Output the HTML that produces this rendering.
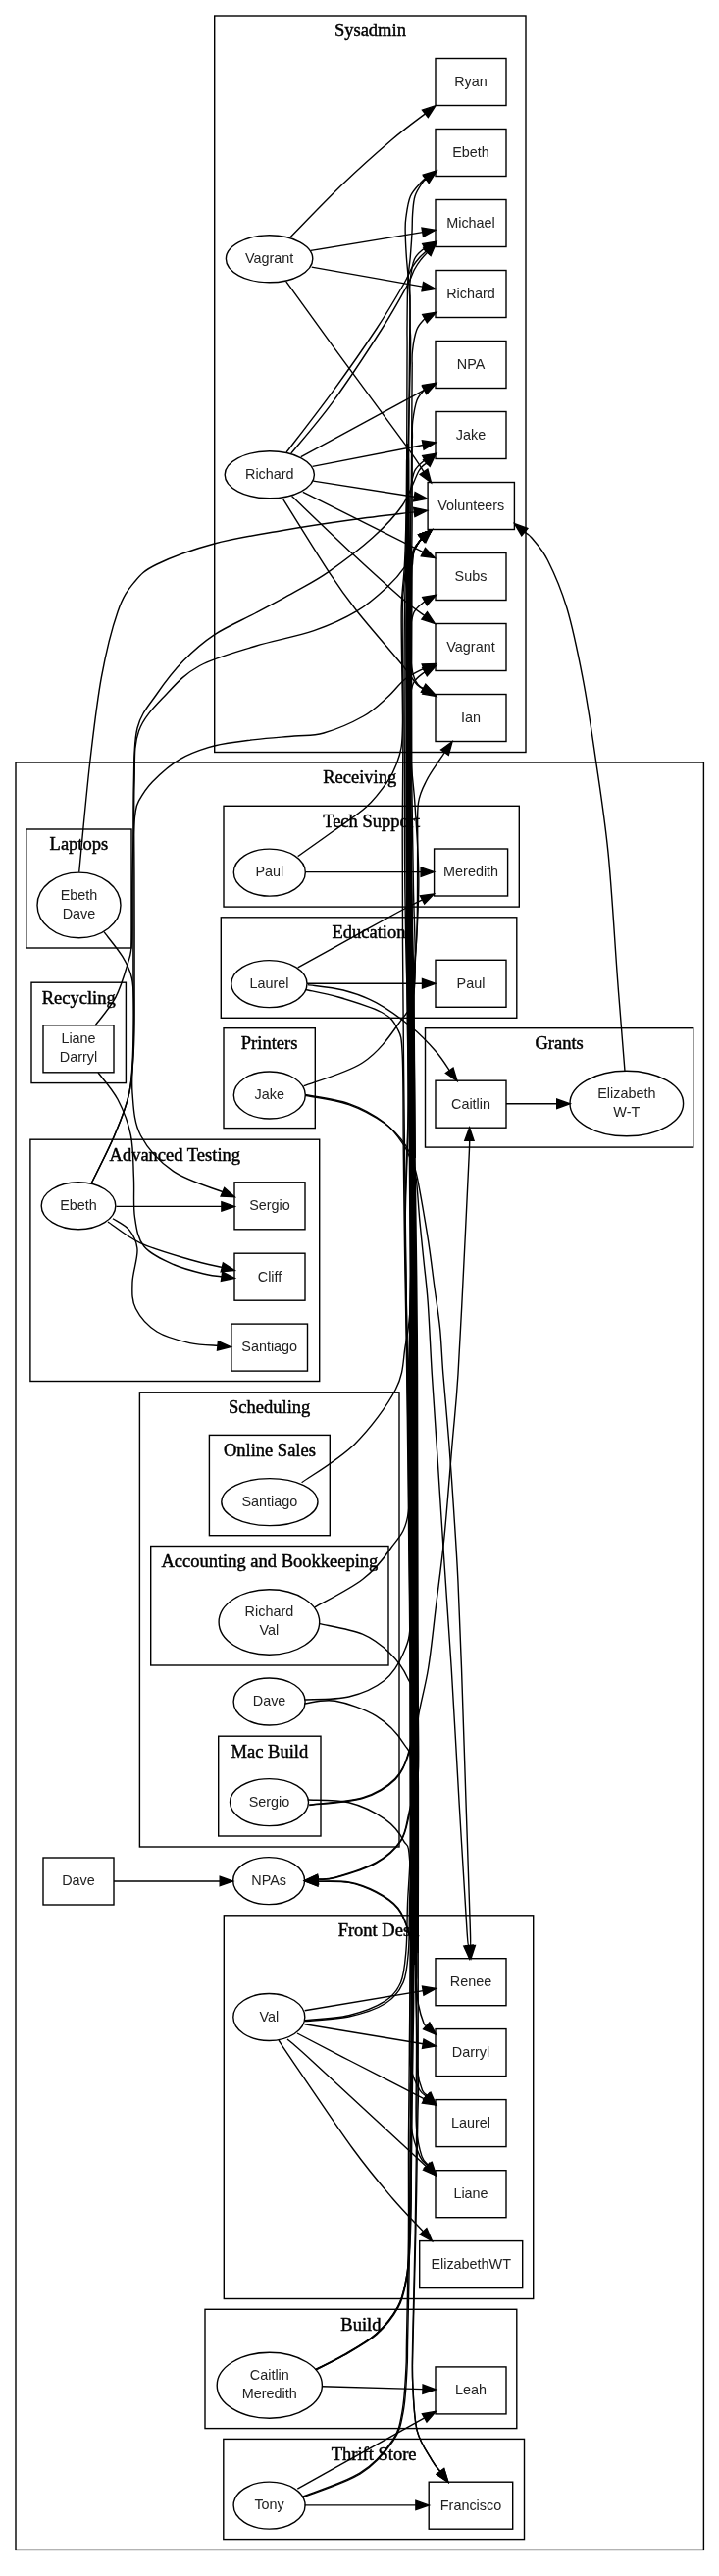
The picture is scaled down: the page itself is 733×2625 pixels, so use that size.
<!DOCTYPE html>
<html><head><meta charset="utf-8"><title>Coverage graph</title>
<style>
html,body{margin:0;padding:0;background:#fff}
svg{display:block;will-change:transform}
.cl text{font-family:"Liberation Serif",serif;font-size:18.5px;text-anchor:middle;fill:#000;stroke:#000;stroke-width:.45px}
.nl text{font-family:"Liberation Sans",sans-serif;font-size:14.4px;text-anchor:middle;fill:#222}
.e polygon.a{fill:#000;stroke:#000}
</style></head><body>
<svg width="733" height="2625" viewBox="0 0 733 2625">
<rect width="733" height="2625" fill="#fff"/>
<g fill="none" stroke="#000" stroke-width="1.4">
<rect x="218.7" y="16" width="317.3" height="750.5"/>
<rect x="16" y="777" width="701.4" height="1821.4"/>
<rect x="228" y="821.3" width="301.3" height="102.8"/>
<rect x="225.3" y="934.8" width="301.5" height="102.5"/>
<rect x="26.8" y="845" width="107.2" height="121"/>
<rect x="32" y="1001.2" width="96.4" height="102.4"/>
<rect x="228" y="1047.7" width="93.3" height="101.9"/>
<rect x="433.5" y="1047.7" width="273.2" height="121.4"/>
<rect x="30.9" y="1161.2" width="294.8" height="246.3"/>
<rect x="142.4" y="1418.8" width="264.6" height="463.2"/>
<rect x="213.4" y="1462.4" width="122.9" height="102.3"/>
<rect x="153.7" y="1575.5" width="242.3" height="121.5"/>
<rect x="222.7" y="1769.2" width="104.3" height="101.8"/>
<rect x="228.3" y="1951.8" width="315.4" height="390.7"/>
<rect x="209" y="2353.3" width="317.8" height="121.3"/>
<rect x="227.8" y="2485.4" width="306.7" height="102.2"/>
</g>
<g class="cl">
<text x="377.4" y="37.3">Sysadmin</text>
<text x="366.7" y="798.3">Receiving</text>
<text x="378.6" y="842.6">Tech Support</text>
<text x="376" y="956.1">Education</text>
<text x="80.4" y="866.3">Laptops</text>
<text x="80.2" y="1022.5">Recycling</text>
<text x="274.6" y="1069">Printers</text>
<text x="570.1" y="1069">Grants</text>
<text x="178.3" y="1182.5">Advanced Testing</text>
<text x="274.7" y="1440.1">Scheduling</text>
<text x="274.9" y="1483.7">Online Sales</text>
<text x="274.9" y="1596.8">Accounting and Bookkeeping</text>
<text x="274.9" y="1790.5">Mac Build</text>
<text x="386" y="1973.1">Front Desk</text>
<text x="367.9" y="2374.6">Build</text>
<text x="381.1" y="2506.7">Thrift Store</text>
</g>
<g fill="none" stroke="#000" stroke-width="1.4">
<rect x="444" y="59.5" width="72" height="48"/>
<rect x="444" y="131.5" width="72" height="48"/>
<rect x="444" y="203.5" width="72" height="48"/>
<rect x="444" y="275.5" width="72" height="48"/>
<rect x="444" y="347.5" width="72" height="48"/>
<rect x="444" y="419.5" width="72" height="48"/>
<rect x="436.1" y="491.5" width="88.3" height="48"/>
<rect x="444" y="563.5" width="72" height="48"/>
<rect x="444" y="635.5" width="72" height="48"/>
<rect x="444" y="707.5" width="72" height="48"/>
<ellipse cx="274.6" cy="263.8" rx="44.2" ry="24"/>
<ellipse cx="274.8" cy="483.8" rx="45.6" ry="24"/>
<ellipse cx="80.5" cy="922.4" rx="42.5" ry="33.3"/>
<rect x="44" y="1044.8" width="72" height="48"/>
<ellipse cx="274.8" cy="889.1" rx="36.5" ry="24"/>
<rect x="442.6" y="865" width="75" height="48"/>
<ellipse cx="274.4" cy="1002.6" rx="38.6" ry="24"/>
<rect x="444" y="978.3" width="72" height="48"/>
<ellipse cx="274.8" cy="1116" rx="36.5" ry="24"/>
<rect x="444" y="1101.2" width="72" height="48"/>
<ellipse cx="638.8" cy="1124.5" rx="57.8" ry="33.3"/>
<ellipse cx="80" cy="1228.7" rx="37.8" ry="24"/>
<rect x="239" y="1204.8" width="72" height="48"/>
<rect x="239" y="1277.2" width="72" height="48"/>
<rect x="235.9" y="1349.1" width="77.6" height="48"/>
<ellipse cx="274.9" cy="1530.6" rx="49.1" ry="24"/>
<ellipse cx="274.4" cy="1653" rx="51.3" ry="33.2"/>
<ellipse cx="274.6" cy="1734" rx="36.5" ry="24"/>
<ellipse cx="274.5" cy="1836.6" rx="40" ry="24"/>
<rect x="44" y="1893" width="72" height="48"/>
<ellipse cx="274.1" cy="1916.6" rx="36.5" ry="24"/>
<ellipse cx="274.3" cy="2055.5" rx="36.5" ry="24"/>
<rect x="444" y="1995.7" width="72" height="48"/>
<rect x="444" y="2067.6" width="72" height="48"/>
<rect x="444" y="2139.6" width="72" height="48"/>
<rect x="444" y="2211.7" width="72" height="48"/>
<rect x="427.7" y="2283.6" width="105" height="48"/>
<ellipse cx="274.8" cy="2430.7" rx="53.6" ry="33.5"/>
<rect x="444" y="2411.9" width="72" height="48"/>
<ellipse cx="274.6" cy="2553.1" rx="36.5" ry="24"/>
<rect x="437.2" y="2529.2" width="85.5" height="48"/>
</g>
<g class="nl">
<text x="480" y="87.8">Ryan</text>
<text x="480" y="159.8">Ebeth</text>
<text x="480" y="231.8">Michael</text>
<text x="480" y="303.8">Richard</text>
<text x="480" y="375.8">NPA</text>
<text x="480" y="447.8">Jake</text>
<text x="480.2" y="519.8">Volunteers</text>
<text x="480" y="591.8">Subs</text>
<text x="480" y="663.8">Vagrant</text>
<text x="480" y="735.8">Ian</text>
<text x="274.6" y="268.1">Vagrant</text>
<text x="274.8" y="488.1">Richard</text>
<text x="80.5" y="916.7">Ebeth</text>
<text x="80.5" y="935.7">Dave</text>
<text x="80" y="1063.1">Liane</text>
<text x="80" y="1082.1">Darryl</text>
<text x="274.8" y="893.4">Paul</text>
<text x="480.1" y="893.3">Meredith</text>
<text x="274.4" y="1006.9">Laurel</text>
<text x="480" y="1006.6">Paul</text>
<text x="274.8" y="1120.3">Jake</text>
<text x="480" y="1129.5">Caitlin</text>
<text x="638.8" y="1118.8">Elizabeth</text>
<text x="638.8" y="1137.8">W-T</text>
<text x="80" y="1233">Ebeth</text>
<text x="275" y="1233.1">Sergio</text>
<text x="275" y="1305.5">Cliff</text>
<text x="274.7" y="1377.4">Santiago</text>
<text x="274.9" y="1534.9">Santiago</text>
<text x="274.4" y="1647.3">Richard</text>
<text x="274.4" y="1666.3">Val</text>
<text x="274.6" y="1738.3">Dave</text>
<text x="274.5" y="1840.9">Sergio</text>
<text x="80" y="1921.3">Dave</text>
<text x="274.1" y="1920.9">NPAs</text>
<text x="274.3" y="2059.8">Val</text>
<text x="480" y="2024">Renee</text>
<text x="480" y="2095.9">Darryl</text>
<text x="480" y="2167.9">Laurel</text>
<text x="480" y="2240">Liane</text>
<text x="480.2" y="2311.9">ElizabethWT</text>
<text x="274.8" y="2425">Caitlin</text>
<text x="274.8" y="2444">Meredith</text>
<text x="480" y="2440.2">Leah</text>
<text x="274.6" y="2557.4">Tony</text>
<text x="480" y="2557.5">Francisco</text>
</g>
<g class="e" fill="none" stroke="#000" stroke-width="1.4">
<path d="M296,241.7C305,232.6 332.7,203.6 350,187C367.3,170.4 386.1,153.9 400,142C413.9,130.1 427.8,120.2 433.4,115.9"/><polygon class="a" points="436.3,119.6 443.9,107.7 430.5,112.2"/>
<path d="M316.8,255.4L430.8,236.6"/><polygon class="a" points="431.5,241.2 443.9,234.4 430,232"/>
<path d="M317.7,272.1L430.8,292.1"/><polygon class="a" points="430,296.7 443.9,294.4 431.6,287.5"/>
<path d="M291.8,286.8C299.8,297.9 319.7,325.8 340,353.6C360.3,381.4 398.3,432.5 413.6,453.7C428.9,474.9 429,476.3 432,480.8"/><polygon class="a" points="428.2,483.4 439.5,491.8 435.9,478.2"/>
<path d="M292.1,460.9C300.1,450.4 324.7,418.8 340,397.8C355.3,376.8 371.9,353 383.8,335C395.7,317 405.3,300.4 411.3,290C417.3,279.6 417.3,277.2 420,272.6C422.7,268 425.1,265.3 427.6,262.5C430.1,259.7 433.7,256.8 434.9,255.6"/><polygon class="a" points="438.1,259 444.6,246.5 431.7,252.2"/>
<path d="M296.8,462.1C304,453.2 324.6,429.8 340,408.6C355.4,387.4 377,354.4 389.4,335C401.8,315.6 409,302.1 414.5,292C420,281.9 420,279.2 422.5,274.5C425,269.8 427.3,266.9 429.5,264C431.7,261.1 434.6,258.4 435.6,257.3"/><polygon class="a" points="439.1,260.5 444.6,247.5 432.2,254.2"/>
<path d="M306.8,465.7L432.6,397.3"/><polygon class="a" points="434.8,401.5 444.3,391 430.4,393.2"/>
<path d="M318.5,475.4L431.2,453.5"/><polygon class="a" points="432.1,458.1 444.3,451 430.4,448.9"/>
<path d="M319.3,490.1L422.4,506.2"/><polygon class="a" points="421.6,510.9 435.5,508.3 423.1,501.6"/>
<path d="M308.8,501.3L431.4,562.6"/><polygon class="a" points="429.3,566.8 443.3,568.6 433.5,558.5"/>
<path d="M297.5,505.5C307.9,515.4 341.3,547.6 360.1,565.1C378.9,582.6 398.1,599.8 410.2,610.2C422.3,620.6 429,624.5 432.7,627.3"/><polygon class="a" points="429.9,631.1 443.3,635.4 435.5,623.6"/>
<path d="M288.8,508.8C296.5,521.1 322.6,563.6 335.1,582.6C347.6,601.6 351.4,606.8 363.9,622.7C376.4,638.6 400,665.3 410.2,677.8C420.4,690.3 421.6,693.9 425.2,697.8C428.8,701.7 430.5,700.6 431.6,701.2"/><polygon class="a" points="429.4,705.3 443.3,707.5 433.8,697.1"/>
<path d="M80.7,888.8C82.5,870.2 87.9,810.1 91.7,777C95.5,743.9 98.7,715.6 103.4,690C108.1,664.4 114.4,639.5 120,623.4C125.6,607.3 130.1,601.5 136.8,593.4C143.5,585.3 146.4,581.6 160,575C173.6,568.4 197.3,559.7 218.5,554C239.7,548.3 263.4,544.8 287,540.7C310.6,536.6 337.5,532.6 360,529.5C382.5,526.4 411.9,523.2 422.3,521.9"/><polygon class="a" points="422.9,526.5 435.5,520.3 421.7,517.3"/>
<path d="M93.4,1205.4C97.3,1197.3 110.3,1172.3 116.7,1157C123.1,1141.7 128.6,1129.2 131.8,1113.6C135,1098 135.1,1085.9 135.8,1063.6C136.5,1041.3 135.9,1007.3 135.9,980C135.9,952.7 135.8,930 135.9,900C136,870 135.6,826.3 136.3,800C137,773.7 136.1,757.5 140,742C143.9,726.5 152.2,718.4 160,707C167.8,695.6 177.1,683.5 186.8,673.5C196.6,663.5 206.3,654.9 218.5,646.8C230.7,638.7 246.4,632.2 260,625C273.6,617.8 287.5,610.5 300,603.4C312.5,596.3 321.7,591.9 335.1,582.6C348.5,573.3 367.7,558.9 380.2,547.6C392.7,536.3 402.4,526.3 410.2,515C418,503.7 422.8,487.2 426.9,480C431,472.8 433.6,473.3 434.9,471.9"/><polygon class="a" points="438.2,475.2 444.3,462.5 431.6,468.6"/>
<path d="M93.4,1205.4C97.3,1197.3 110.3,1172.3 116.7,1157C123.1,1141.7 128.5,1129.2 131.8,1113.6C135.1,1098 135.7,1085.9 136.6,1063.6C137.5,1041.3 137,1007.3 137.1,980C137.2,952.7 137,930 137,900C137,870 136.2,825.8 137,800C137.8,774.2 136,760.5 141.5,745C147,729.5 159.7,718.1 170,707C180.3,695.9 188.5,686.6 203.5,678.5C218.5,670.4 240.6,664.5 260,658.5C279.4,652.5 302.7,648.7 320,642.7C337.3,636.7 351.4,630.2 363.9,622.7C376.4,615.2 387.1,605.2 395.2,597.7C403.3,590.2 407.9,584.6 412.7,577.6C417.5,570.6 421,560.7 424,556C427,551.3 429.5,550.5 430.6,549.4"/><polygon class="a" points="433.9,552.7 440,540 427.3,546.1"/>
<path d="M97,1045C100.5,1040.2 112.2,1027 117.8,1016.4C123.3,1005.9 127.5,991.1 130.3,981.7C133.1,972.3 133.7,973.6 134.4,960C135.2,946.4 134.5,918.7 134.8,900C135.1,881.3 135.9,859.9 136.4,848C136.9,836.1 137.2,834 138,828.7C138.8,823.4 138.6,821.5 141.5,816.2C144.4,810.9 148.4,803.8 155.4,796.7C162.4,789.6 173,779.7 183.5,773.6C194,767.5 205.8,763.3 218.5,760C231.2,756.7 246.4,755.3 260,753.6C273.6,751.9 288.3,751.1 300,750C311.7,748.9 318.3,750.3 330,747C341.7,743.7 359.3,736.1 370.2,730C381.1,723.9 388.1,716.6 395.2,710.3C402.3,704 406.9,696.8 413,692C419.1,687.2 428.7,683.1 431.9,681.3"/><polygon class="a" points="433.5,685.7 444.3,676.6 430.2,676.9"/>
<path d="M106,949.7C109.1,953.9 120,966.8 124.8,974.7C129.6,982.6 132.5,987.8 134.5,997C136.5,1006.2 136.3,1017.8 136.6,1030C136.8,1042.2 136.3,1056.1 136,1070C135.7,1083.9 133.8,1099.1 135,1113.6C136.2,1128.1 136.4,1143.7 143.4,1157C150.4,1170.3 162.9,1184.1 176.8,1193.7C190.7,1203.3 218.6,1211.2 226.9,1214.7"/><polygon class="a" points="225.1,1219 239.2,1219.8 228.7,1210.4"/>
<path d="M100,1093C103.3,1097.5 114.4,1109.6 120,1120.3C125.6,1131 130.7,1143.7 133.4,1157C136.1,1170.3 135.7,1186.2 136.4,1200C137.1,1213.8 135.7,1228.3 137.4,1240C139.1,1251.7 140.2,1261.9 146.8,1270C153.4,1278.1 166.3,1283.8 176.8,1288.5C187.3,1293.2 201.8,1296.5 210,1298.5C218.2,1300.5 223.4,1300.3 226,1300.7"/><polygon class="a" points="225.4,1305.3 239.2,1302.5 226.7,1296.1"/>
<path d="M118.4,1229.4L225.9,1229.4"/><polygon class="a" points="225.9,1234.1 239.2,1229.4 225.9,1224.7"/>
<path d="M110,1245C115.6,1248.6 129.5,1260.4 143.4,1266.8C157.3,1273.2 179.7,1279.4 193.5,1283.5C207.3,1287.6 220.8,1290.1 226.3,1291.4"/><polygon class="a" points="225.2,1295.9 239.2,1294.5 227.4,1286.8"/>
<path d="M115,1241.7C117.8,1243.7 127.6,1248.1 131.8,1253.4C136,1258.7 139.5,1264.5 140,1273.4C140.5,1282.3 135.3,1296.8 135,1306.8C134.7,1316.8 134.2,1325.1 138.4,1333.5C142.6,1341.9 150.8,1351.2 160,1357C169.2,1362.8 183.2,1366.2 193.5,1368.6C203.8,1371 217.2,1370.9 222,1371.3"/><polygon class="a" points="221.5,1376 235.2,1372.6 222.4,1366.7"/>
<path d="M116,1917L224.2,1917"/><polygon class="a" points="224.2,1921.7 237.5,1917 224.2,1912.3"/>
<path d="M311.3,888.6L429.1,888.6"/><polygon class="a" points="429.1,893.3 442.4,888.6 429.1,883.9"/>
<path d="M303.7,985.9C309.8,982.5 322.8,975.3 340,965.8C357.2,956.3 391.7,937.1 406.8,929C421.9,920.9 426.6,918.9 430.5,916.9"/><polygon class="a" points="432.7,921.1 442.4,910.9 428.4,912.8"/>
<path d="M313,1002.3L430.5,1002.3"/><polygon class="a" points="430.5,1007 443.8,1002.3 430.5,997.6"/>
<path d="M313.9,1003.6C319.9,1004.5 338.4,1006 350,1009C361.6,1012 371.8,1015.4 383.4,1021.7C395,1028 409.4,1038.5 419.6,1046.8C429.8,1055.1 438.2,1064.5 444.6,1071.8C451,1079.1 456,1087.6 458.2,1090.8"/><polygon class="a" points="454.4,1093.5 466,1101.6 462,1088.1"/>
<path d="M516,1124.8L567.7,1124.8"/><polygon class="a" points="567.7,1129.5 581,1124.8 567.7,1120.1"/>
<path d="M637,1091.5C635.8,1076 632.4,1035.6 629.6,998.5C626.8,961.4 623.8,906.7 620,868.9C616.2,831.1 611.3,801.3 607,771.6C602.7,741.9 598.9,716 594,690.6C589.1,665.2 583.8,639.3 577.8,619.3C571.8,599.3 564.3,582.6 558.3,570.7C552.3,558.8 545.9,552.8 542,548C538.1,543.2 536,543.1 534.8,542.1"/><polygon class="a" points="537.8,538.5 524.5,533.7 531.8,545.7"/>
<path d="M310.6,2048.7L431.3,2028.6"/><polygon class="a" points="432,2033.2 444.4,2026.4 430.5,2024"/>
<path d="M310.6,2062.8L431.3,2082.8"/><polygon class="a" points="430.5,2087.4 444.4,2085 432,2078.2"/>
<path d="M303,2072C312,2076.7 335.4,2088.8 357,2100C378.6,2111.2 420,2132.4 432.6,2138.9"/><polygon class="a" points="430.4,2143.1 444.4,2145 434.7,2134.8"/>
<path d="M293,2078C297.2,2081.7 294.4,2078.4 318,2100C341.6,2121.6 415.2,2189.8 434.6,2207.8"/><polygon class="a" points="431.5,2211.2 444.4,2216.8 437.8,2204.3"/>
<path d="M284,2079C286.7,2083 287.3,2084.3 300,2102.8C312.7,2121.3 343.3,2167.1 360,2190C376.7,2212.9 388.1,2226 400,2240C411.9,2254 426.2,2268.2 431.4,2273.9"/><polygon class="a" points="428,2277 440.5,2283.6 434.9,2270.7"/>
<path d="M328.4,2431.7L431,2434.6"/><polygon class="a" points="430.9,2439.3 444.3,2435 431.1,2430"/>
<path d="M310.6,2552.9L423.9,2552.9"/><polygon class="a" points="423.9,2557.6 437.2,2552.9 423.9,2548.2"/>
<path d="M303.3,2536.2L432.7,2463.9"/><polygon class="a" points="435,2468 444.3,2457.4 430.4,2459.8"/>
<path d="M303.7,872.6C309.8,868.3 328.4,855.2 340,846.8C351.6,838.4 364.1,830.8 373.4,822.3C382.7,813.8 390.4,803.1 395.6,795.6C400.8,788.1 402.5,782.9 404.8,777C407.1,771.1 408.4,766.2 409.3,760C410.2,753.8 410.2,747.5 410.4,740C410.6,732.5 410.5,735 410.3,715C410.2,695 408.8,645.8 409.2,620C409.7,594.2 411.6,601.7 413.1,560C414.6,518.3 417.4,407.5 418.3,370C419.1,332.5 418.3,346.7 418.2,335C418.1,323.3 418.2,312.1 417.6,300C417,287.9 415.1,272.9 414.4,262.5C413.7,252.1 413.3,244.2 413.2,237.5C413.1,230.8 412.9,228.2 413.8,222C414.7,215.8 415.7,206.2 418.4,200C421.1,193.8 427.4,188 430,185C432.6,182 433.4,182.4 434.1,181.9"/><polygon class="a" points="436.9,185.7 444.8,174 431.3,178.2"/>
<path d="M419.3,1470C418.7,1455.8 416.4,1413.3 415.5,1385C414.7,1356.7 414.4,1333.1 414,1300C413.5,1266.9 413,1224.4 412.6,1186.7C412.2,1148.9 411.8,1111.1 411.4,1073.3C411.1,1035.6 410.7,997.8 410.5,960C410.3,922.2 410.2,884.4 410.2,846.7C410.3,808.9 411,771.1 411,733.3C411,695.6 409.8,648.9 410.3,620C410.7,591.1 413.1,601.7 413.9,560C414.7,518.3 414.9,407.5 415,370C415.2,332.5 414.9,348.7 415,335C415.1,321.3 415.2,299.7 415.7,287.6C416.2,275.5 417.5,270.9 418.2,262.5C418.9,254.1 419.6,244.4 420,237C420.4,229.6 420.1,224.2 420.6,218C421.1,211.8 421.3,205.4 423,200C424.7,194.6 429.1,188.4 431,185.5C432.9,182.6 433.8,183.2 434.4,182.8"/><polygon class="a" points="437.3,186.4 444.8,174.5 431.5,179.1"/>
<path d="M308.3,2544.2C318.1,2540.2 351.5,2529.8 366.8,2520.2C382.1,2510.6 392.9,2497.4 400.1,2486.8C407.3,2476.2 407.8,2469 410.1,2456.8C412.4,2444.6 413.2,2425.4 413.9,2413.4C414.6,2401.4 414.1,2407 414.5,2385C414.9,2363 416,2315.8 416.4,2281.2C416.7,2246.6 416.3,2212 416.5,2177.4C416.7,2142.7 417.2,2108.1 417.5,2073.5C417.8,2038.9 418.3,2004.3 418.5,1969.7C418.6,1935.1 418.4,1900.5 418.4,1865.9C418.4,1831.3 418.4,1796.7 418.3,1762.1C418.2,1727.5 418.2,1692.8 418,1658.2C417.8,1623.6 417.3,1589 417,1554.4C416.7,1519.8 416.5,1485.2 416.1,1450.6C415.7,1416 415.1,1381.4 414.6,1346.8C414.1,1312.2 413,1277.5 413.2,1242.9C413.5,1208.3 415.8,1173.7 416.1,1139.1C416.5,1104.5 415.6,1069.9 415.3,1035.3C415,1000.7 414.7,966.1 414.5,931.5C414.3,896.9 414.2,862.3 414.1,827.6C414.1,793 414.2,758.4 414.2,723.8C414.1,689.2 413.7,647.3 414.1,620C414.4,592.7 415.7,590.5 416.1,560C416.6,529.5 416.5,477.8 416.8,436.8C417.1,395.7 417.8,336 418,313.5C418.2,291 417.8,306.2 417.9,301.5C417.9,296.8 417.4,291.8 418.2,285.5C418.9,279.2 420,269.5 422.5,264C424.9,258.5 431.2,254.6 433,252.7"/><polygon class="a" points="435.3,256.8 444.6,246.2 430.7,248.6"/>
<path d="M308.3,2545C318.1,2541 351.8,2530.6 367.2,2521C382.6,2511.4 393.5,2498.1 400.8,2487.4C408.1,2476.7 408.8,2469.3 411.2,2457C413.6,2444.7 414.3,2425.4 415,2413.4C415.7,2401.4 415.2,2407 415.6,2385C416.1,2363 417.2,2315.8 417.6,2281.2C418,2246.6 417.9,2212 418.1,2177.4C418.4,2142.7 418.7,2108.1 419,2073.5C419.2,2038.9 419.6,2004.3 419.8,1969.7C419.9,1935.1 419.7,1900.5 419.7,1865.9C419.7,1831.3 419.7,1796.7 419.7,1762.1C419.6,1727.5 419.6,1692.8 419.4,1658.2C419.2,1623.6 418.9,1589 418.6,1554.4C418.3,1519.8 417.8,1485.2 417.8,1450.6C417.8,1416 418.5,1381.4 418.7,1346.8C418.8,1312.2 418.7,1277.5 418.5,1242.9C418.3,1208.3 417.7,1173.7 417.4,1139.1C417.1,1104.5 416.8,1069.9 416.5,1035.3C416.3,1000.7 415.9,966.1 415.7,931.5C415.5,896.9 415.3,862.3 415.2,827.6C415.1,793 415.1,758.4 415.1,723.8C415.1,689.2 414.4,647.3 415.1,620C415.9,592.7 418.8,587.1 419.7,560C420.5,532.9 420.1,476.6 420.2,457.5C420.3,438.4 420.3,450.2 420.4,445.5C420.5,440.8 419.9,435.8 420.7,429.5C421.5,423.2 422.9,413.5 425,408C427,402.5 431.7,398.6 433,396.7"/><polygon class="a" points="435.3,400.8 444.6,390.2 430.7,392.6"/>
<path d="M320.9,1637.9C329,1633.2 356.8,1619.3 369.5,1609.5C382.2,1599.7 389.6,1590.6 397.4,1579C405.2,1567.4 413.4,1563.5 416.4,1540C419.4,1516.5 416,1471.9 415.6,1437.8C415.2,1403.7 414.6,1369.6 414.2,1335.6C413.7,1301.5 412.7,1267.4 413,1233.3C413.4,1199.3 415.7,1165.2 416.1,1131.1C416.5,1097 415.6,1063 415.4,1028.9C415.2,994.8 414.9,960.7 414.7,926.7C414.5,892.6 414.5,858.5 414.5,824.4C414.4,790.4 414.5,756.3 414.5,722.2C414.6,688.1 413.9,647 414.6,620C415.3,593 417.6,599.1 418.5,560C419.4,520.9 419.8,416.6 420.1,385.5C420.3,354.4 420.1,378.2 420.2,373.5C420.2,368.8 419.7,363.8 420.5,357.5C421.2,351.2 422.7,341.5 424.8,336C426.9,330.5 431.6,326.6 433,324.7"/><polygon class="a" points="435.3,328.8 444.6,318.2 430.7,320.6"/>
<path d="M315.3,1839C324.3,1837.8 354.9,1836.4 369.5,1832C384.1,1827.6 395,1820.5 402.9,1812.6C410.8,1804.7 414,1794.4 416.8,1784.8C419.6,1775.2 419.2,1777.2 419.6,1755C420.1,1732.8 419.6,1686.2 419.4,1651.8C419.2,1617.4 418.9,1583 418.7,1548.6C418.4,1514.2 417.9,1479.8 418,1445.5C418,1411.1 418.9,1376.7 419,1342.3C419.1,1307.9 418.9,1273.5 418.7,1239.1C418.5,1204.7 418,1170.3 417.7,1135.9C417.4,1101.5 417.2,1067.1 416.9,1032.7C416.6,998.3 416.3,963.9 416.1,929.5C415.9,895.2 415.7,860.8 415.6,826.4C415.5,792 415.5,757.6 415.5,723.2C415.5,688.8 415.2,647.2 415.7,620C416.1,592.8 417.7,575.1 418.2,560C418.6,544.9 418.4,536.6 418.3,529.5C418.3,522.4 418,522.2 418,517.5C418,512.8 417.6,507.8 418.3,501.5C419.1,495.2 420.2,485.5 422.6,480C425.1,474.5 431.3,470.6 433,468.7"/><polygon class="a" points="435.3,472.8 444.6,462.2 430.7,464.6"/>
<path d="M315.3,1839.5C324.3,1838.3 354.9,1836.8 369.5,1832.5C384.1,1828.2 395,1821.2 402.9,1813.4C410.8,1805.7 414.1,1795.7 417,1786C419.9,1776.3 419.6,1777.8 420.1,1755C420.6,1732.2 420.1,1684.4 420,1649.1C419.9,1613.8 419.7,1578.5 419.5,1543.2C419.4,1507.9 418.9,1472.6 419.1,1437.3C419.2,1402 420.2,1366.7 420.3,1331.4C420.4,1296.1 420,1260.8 419.7,1225.5C419.5,1190.2 419.1,1154.8 418.9,1119.5C418.6,1084.2 418.4,1048.9 418.2,1013.6C418,978.3 417.8,943 417.5,907.7C417.3,872.4 417,837.1 416.9,801.8C416.8,766.5 417,731.2 417,695.9C417,660.6 417,610.3 417.2,590C417.3,569.7 416.9,579 417.8,574C418.7,569 420.5,564.3 422.5,560C424.5,555.7 428.5,550.4 429.7,548.5"/><polygon class="a" points="432.7,552.1 440,540 426.8,544.9"/>
<path d="M311,2058.7C318.4,2057.9 342.1,2056.9 355.6,2053.7C369.1,2050.5 383,2045.3 391.8,2039.7C400.6,2034.1 404.8,2029.1 408.5,2020.3C412.2,2011.5 412.8,2000.4 414,1987C415.2,1973.6 414.8,1957.8 415.5,1940C416.2,1922.2 418,1906.8 418.5,1880C419,1853.2 418.6,1813 418.6,1779.5C418.7,1745.9 418.8,1712.4 418.7,1678.9C418.6,1645.4 418.3,1611.9 418.1,1578.4C417.9,1544.9 417.6,1511.3 417.5,1477.8C417.5,1444.3 417.5,1410.8 417.7,1377.3C418,1343.8 418.8,1310.3 418.9,1276.8C418.9,1243.2 418.3,1209.7 418,1176.2C417.8,1142.7 417.6,1109.2 417.3,1075.7C417.1,1042.2 416.9,1008.6 416.7,975.1C416.5,941.6 416.3,908.1 416.1,874.6C416,841.1 415.9,807.6 415.9,774C415.9,740.5 415.9,692.3 416.1,673.5C416.4,654.7 417.1,666.2 417.4,661.5C417.6,656.8 416.9,651.8 417.7,645.5C418.4,639.2 419.4,629.5 422,624C424.5,618.5 431.2,614.6 433,612.7"/><polygon class="a" points="435.3,616.8 444.6,606.2 430.7,608.6"/>
<path d="M311,2059.5C318.4,2058.8 341.9,2058 355.6,2055C369.3,2052 383.8,2047.3 393,2041.5C402.2,2035.7 407.1,2029.4 411,2020.3C414.9,2011.2 415.4,2000.4 416.5,1987C417.6,1973.6 417,1957.8 417.5,1940C418,1922.2 419.4,1907.9 419.8,1880C420.2,1852.1 420,1808.3 420,1772.5C420.1,1736.7 420.2,1700.8 420.2,1665C420.1,1629.2 419.8,1593.3 419.7,1557.5C419.6,1521.7 419.2,1485.8 419.3,1450C419.4,1414.2 420.2,1378.3 420.3,1342.5C420.4,1306.7 420.3,1270.8 420.1,1235C419.9,1199.2 419.5,1163.3 419.3,1127.5C419,1091.7 418.9,1055.8 418.6,1020C418.4,984.2 418.2,948.3 418,912.5C417.8,876.7 417.4,840.8 417.3,805C417.2,769.2 417.4,733.3 417.4,697.5C417.5,661.7 417.6,610.6 417.7,590C417.9,569.4 417.6,579 418.4,574C419.2,569 420.6,564.3 422.5,560C424.4,555.7 428.5,550.4 429.7,548.5"/><polygon class="a" points="432.7,552.1 440,540 426.8,544.9"/>
<path d="M321.7,2414.4C326.4,2412 339.7,2405.9 350,2399.9C360.3,2393.9 374.1,2386.5 383.4,2378.2C392.7,2369.9 400.6,2359.6 405.7,2350.3C410.8,2341 412.1,2331.8 414,2322.5C415.9,2313.2 416.2,2308.4 416.8,2294.7C417.4,2280.9 417.5,2265.8 417.9,2240C418.2,2214.2 418.5,2173.3 419,2140C419.5,2106.7 420.5,2063.7 420.8,2040C421.1,2016.3 421.7,2009.7 421,1998C420.3,1986.3 419.4,1978.8 416.8,1970C414.2,1961.2 411.3,1951.9 405.7,1945C400.1,1938.1 391.8,1932.9 383.4,1928.5C375,1924.1 365.5,1920.3 355.6,1918.4C345.7,1916.5 329.3,1917.5 324.1,1917.3"/><polygon class="a" points="324.3,1912.6 310.8,1916.8 323.9,1921.9"/>
<path d="M321.7,2414.7C326.4,2412.3 339.7,2406.3 350,2400.3C360.3,2394.3 374.1,2386.9 383.4,2378.6C392.7,2370.3 400.6,2360.1 405.7,2350.7C410.8,2341.4 412.1,2331.8 414,2322.5C415.9,2313.2 416.4,2308.4 417.2,2294.7C418,2280.9 418.5,2265.8 419,2240C419.5,2214.2 419.7,2173.3 420.2,2140C420.6,2106.7 421.6,2063.7 421.7,2040C421.9,2016.3 421.8,2009.8 421,1998C420.2,1986.2 419.4,1978.2 416.8,1969.2C414.2,1960.2 411.3,1951.1 405.7,1944.2C400.1,1937.3 391.8,1932.1 383.4,1927.7C375,1923.3 365.5,1919.8 355.6,1918C345.7,1916.2 329.3,1917.3 324.1,1917.2"/><polygon class="a" points="324.2,1912.5 310.8,1916.8 324,1921.8"/>
<path d="M321.7,2414.9C326.4,2412.5 339.6,2406.5 350,2400.5C360.4,2394.5 374.4,2387.2 383.8,2379C393.2,2370.8 401.1,2360.4 406.2,2351C411.3,2341.6 412.7,2331.9 414.6,2322.5C416.5,2313.1 416.8,2308.4 417.6,2294.7C418.4,2280.9 418.9,2266.9 419.2,2240C419.5,2213.1 419.3,2168.8 419.5,2133.2C419.7,2097.7 420.1,2062.1 420.3,2026.5C420.5,1990.9 420.6,1955.3 420.7,1919.8C420.8,1884.2 420.8,1848.6 420.8,1813C420.8,1777.4 421,1741.8 420.9,1706.2C420.8,1670.7 420.6,1635.1 420.4,1599.5C420.2,1563.9 419.9,1528.3 419.7,1492.8C419.6,1457.2 419.4,1421.6 419.5,1386C419.6,1350.4 420.3,1314.8 420.2,1279.2C420.2,1243.7 419.5,1208.1 419.2,1172.5C418.9,1136.9 418.6,1101.3 418.3,1065.8C418,1030.2 417.8,994.6 417.5,959C417.3,923.4 417,887.8 416.8,852.2C416.6,816.7 416.3,765.3 416.3,745.5C416.3,725.7 416.7,738.2 416.9,733.5C417,728.8 416.4,723.8 417.2,717.5C417.9,711.2 418.8,701.5 421.5,696C424.1,690.5 431.1,686.6 433,684.7"/><polygon class="a" points="435.3,688.8 444.6,678.2 430.7,680.6"/>
<path d="M309.7,1106.6C319.7,1102.7 353.5,1093.4 369.5,1083C385.5,1072.6 396.9,1056.7 405.7,1044C414.5,1031.3 419.8,1030.5 422.4,1007C425,983.5 421.9,937.5 421.4,902.8C421,868 420.1,833.2 419.8,798.5C419.5,763.8 419.6,729 419.6,694.2C419.7,659.5 419.9,610 420,590C420.2,570 420.2,579 420.6,574C421,569 421,564.3 422.5,560C424,555.7 428.5,550.4 429.7,548.5"/><polygon class="a" points="432.7,552.1 440,540 426.8,544.9"/>
<path d="M310.6,1732C318.1,1731.5 342.1,1732.2 355.6,1729C369.1,1725.8 382.5,1719.9 391.8,1712.5C401.1,1705.1 406.8,1695.3 411.3,1684.6C415.8,1673.8 417.6,1671.7 418.7,1648C419.9,1624.3 418.3,1577.5 418.2,1542.2C418,1506.9 417.5,1471.7 417.7,1436.4C417.9,1401.1 419.1,1365.9 419.3,1330.6C419.5,1295.3 419,1260.1 418.8,1224.8C418.6,1189.5 418.2,1154.3 418,1119C417.8,1083.7 417.6,1048.5 417.4,1013.2C417.2,977.9 416.9,942.7 416.8,907.4C416.6,872.1 416.4,836.9 416.4,801.6C416.3,766.3 416.4,731.1 416.5,695.8C416.5,660.5 416.4,610.3 416.6,590C416.7,569.7 416.3,579 417.3,574C418.3,569 420.4,564.3 422.5,560C424.6,555.7 428.5,550.4 429.7,548.5"/><polygon class="a" points="432.7,552.1 440,540 426.8,544.9"/>
<path d="M421.1,1250C420.9,1231.7 420.5,1176.7 420.2,1140C420,1103.3 419.7,1066.7 419.5,1030C419.3,993.3 419.1,956.7 418.8,920C418.5,883.3 418.1,846.7 418,810C417.8,773.3 417.9,736.7 417.9,700C418,663.3 418.1,611 418.3,590C418.5,569 418.2,579 418.9,574C419.6,569 420.7,564.3 422.5,560C424.3,555.7 428.5,550.4 429.7,548.5"/><polygon class="a" points="432.7,552.1 440,540 426.8,544.9"/>
<path d="M422,1350C422,1331.9 421.9,1277.6 421.7,1241.4C421.5,1205.2 421.1,1169 420.8,1132.9C420.6,1096.7 420.4,1060.5 420.1,1024.3C419.9,988.1 419.7,951.9 419.4,915.7C419.1,879.5 418.6,843.3 418.4,807.1C418.3,771 418.4,734.8 418.4,698.6C418.5,662.4 418.7,610.8 418.9,590C419,569.2 418.9,579 419.5,574C420.1,569 420.8,564.3 422.5,560C424.2,555.7 428.5,550.4 429.7,548.5"/><polygon class="a" points="432.7,552.1 440,540 426.8,544.9"/>
<path d="M422.5,1450C422.6,1432.1 422.9,1378.3 422.8,1342.5C422.8,1306.7 422.5,1270.8 422.3,1235C422.1,1199.2 421.7,1163.3 421.5,1127.5C421.2,1091.7 421,1055.8 420.8,1020C420.5,984.2 420.4,948.3 420,912.5C419.7,876.7 419.1,840.8 418.9,805C418.7,769.2 418.8,733.3 418.9,697.5C419,661.7 419.3,610.6 419.4,590C419.6,569.4 419.5,579 420,574C420.5,569 420.9,564.3 422.5,560C424.1,555.7 428.5,550.4 429.7,548.5"/><polygon class="a" points="432.7,552.1 440,540 426.8,544.9"/>
<path d="M307.6,1510.7C316.6,1504.2 345.7,1487.2 361.7,1471.4C377.7,1455.6 394.8,1432.5 403.4,1415.8C412,1399.1 410.7,1385.8 413.2,1371.3C415.7,1356.8 417.2,1353.8 418.3,1329C419.4,1304.2 419.3,1258.1 419.7,1222.7C420.1,1187.2 420.4,1151.8 420.8,1116.3C421.2,1080.9 421.3,1039.4 422,1010C422.8,980.6 424.6,965 425.2,940C425.8,915 425.5,880.3 425.7,860C425.9,839.7 424.9,828.8 426.5,818C428.1,807.2 431.6,802 435,795C438.4,788 443.9,780.7 447,776C450.1,771.3 452.4,768.3 453.4,766.7"/><polygon class="a" points="457.3,769.4 461,755.8 449.6,764.1"/>
<path d="M419.2,640C419.2,645.8 418.5,666.1 419.2,675C419.9,683.9 421.4,689 423.4,693.5C425.4,698 429.4,700.4 431,702C432.6,703.6 432.6,702.9 432.9,703"/><polygon class="a" points="430.7,707.1 444.6,709.4 435.1,698.9"/>
<path d="M419.3,700C419.2,711.7 418.4,750 419,770C419.6,790 421.7,799.5 423,820C424.3,840.5 426.6,869.7 426.8,893C427.1,916.3 425.4,942.2 424.5,960C423.6,977.8 421.9,983.3 421.5,1000C421.1,1016.7 421.9,1040 422.1,1060C422.3,1080 422.5,1100 422.7,1120C422.9,1140 423.2,1170 423.3,1180"/>
<path d="M414.2,570C413.9,578.3 412.9,598.3 412.5,620C412.1,641.7 412.1,670 412.1,700C412.1,730 412.3,770 412.4,800C412.5,830 412.4,853.3 412.6,880C412.8,906.7 413.2,935 413.7,960C414.2,985 415.3,1018.3 415.6,1030"/>
<path d="M311.5,1008.5C317.1,1009.8 332.1,1012.2 345,1016C357.9,1019.8 379,1026.2 389,1031.5C399,1036.8 401.5,1040.8 405,1048C408.5,1055.2 409.2,1053.7 410.2,1075C411.3,1096.3 410.9,1142.3 411.3,1176C411.7,1209.7 412.1,1243.3 412.6,1277C413.1,1310.7 413.9,1344.3 414.4,1378C414.9,1411.7 415.3,1445.3 415.7,1479C416.1,1512.7 416.5,1546.3 416.8,1580C417.2,1613.7 417.7,1647.3 417.9,1681C418.1,1714.7 418.1,1748.3 418.2,1782C418.3,1815.7 418.3,1849.3 418.4,1883C418.4,1916.7 418.6,1950.3 418.5,1984C418.3,2017.7 417.5,2064 417.6,2085C417.8,2106 417.8,2102.5 419.5,2110C421.2,2117.5 425.5,2125.6 428,2130C430.5,2134.4 433.7,2135.2 434.8,2136.2"/><polygon class="a" points="431.6,2139.7 444.6,2145.2 437.9,2132.8"/>
<path d="M311,1115.5C318.4,1117 342.1,1119.8 355.6,1124.6C369.1,1129.3 382.5,1137 391.8,1144C401.1,1151 406.6,1159.4 411.3,1166.4C416,1173.4 417.8,1180.1 420,1186C422.2,1191.9 423,1192.1 424.3,1201.7C425.6,1211.3 426.5,1229.5 427.8,1243.4C429.1,1257.3 430.6,1271.1 432,1285C433.4,1298.9 434.8,1307.8 436.2,1327C437.6,1346.2 438.7,1373.9 440.3,1400C441.9,1426.1 443.9,1453.3 445.9,1483.4C447.9,1513.5 449.8,1544.7 452.2,1580.8C454.6,1616.9 457.5,1657 460.2,1700C462.9,1743 465.6,1795 468.2,1839C470.8,1883 474.3,1940.1 475.8,1964C477.3,1987.9 477.2,1979.5 477.4,1982.6"/><polygon class="a" points="472.8,1983 478.6,1995.8 482.1,1982.1"/>
<path d="M311,1116.3C318.4,1117.8 342,1120.8 355.6,1125.6C369.2,1130.4 382.9,1138.2 392.5,1145C402.1,1151.8 408.2,1159.6 413,1166.4C417.8,1173.2 419.4,1180.1 421.5,1186C423.6,1191.9 423.9,1193.3 425.7,1201.7C427.4,1210.1 430,1224.9 432,1236.5C434,1248.1 435.8,1258.5 437.6,1271.3C439.5,1284 441.2,1299.1 443.1,1313C445,1326.9 447.2,1340.2 448.7,1354.7C450.1,1369.2 450.3,1380.9 451.8,1400C453.3,1419.1 455.9,1446.3 457.7,1469.5C459.5,1492.7 461.1,1515.8 462.6,1539C464.1,1562.2 465.5,1581.8 466.8,1608.6C468.1,1635.4 469.1,1661.6 470.5,1700C471.9,1738.4 473.6,1795 475.1,1839C476.6,1883 478.5,1940.1 479.3,1964C480.1,1987.9 479.6,1979.4 479.7,1982.5"/><polygon class="a" points="475,1982.6 480,1995.8 484.4,1982.4"/>
<path d="M325.9,1654.6C333.2,1656.4 357.6,1660.2 369.5,1665.2C381.4,1670.2 389.8,1677.2 397.4,1684.6C405,1692 411.2,1700.5 415.4,1709.7C419.6,1718.9 421,1713.3 422.4,1740C423.8,1766.7 423.3,1826.7 423.7,1870C424.1,1913.3 424.8,1975 424.9,2000C425.1,2025 424.2,2012.9 424.5,2020C424.8,2027.1 425.2,2035.5 426.5,2042.5C427.8,2049.5 430.7,2058.4 432.1,2062C433.5,2065.6 434.3,2064 434.7,2064.4"/><polygon class="a" points="431.6,2067.8 444.6,2073.3 437.9,2060.9"/>
<path d="M310.6,1736C315.8,1735.5 329.6,1731.2 341.7,1733.3C353.8,1735.4 371.8,1741.4 383.4,1748.6C395,1755.8 405.2,1766.5 411.3,1776.4C417.4,1786.3 418.2,1778.4 419.7,1808C421.2,1837.6 420.2,1905.3 420.3,1954C420.3,2002.7 420.4,2071 420,2100C419.7,2129 418.3,2116.2 418.2,2127.8C418.1,2139.4 418,2157.9 419.6,2169.5C421.2,2181.1 425.3,2191.2 428,2197.4C430.7,2203.6 434.6,2205.1 436,2206.7"/><polygon class="a" points="432.4,2209.7 444.6,2216.8 439.5,2203.7"/>
<path d="M313.9,1834C320.8,1834.5 342.6,1833.5 355.6,1836.7C368.6,1839.9 382.5,1846.9 391.8,1853.4C401.1,1859.9 406.8,1866.5 411.3,1875.6C415.8,1884.7 416.1,1870.6 418.5,1908C421,1945.4 424.8,2058 426,2100C427.2,2142 426.2,2130.8 425.8,2160C425.5,2189.2 424.6,2236.7 423.8,2275C422.9,2313.3 421.4,2364.2 420.9,2390C420.4,2415.8 420.1,2415.5 420.8,2430C421.5,2444.5 422,2464 425.2,2476.8C428.4,2489.6 436.2,2499.8 440.2,2506.8C444.2,2513.8 447.5,2516.6 449,2518.5"/><polygon class="a" points="445.2,2521.3 456.9,2529.2 452.7,2515.7"/>
<path d="M423.2,1960C423.5,1983.3 424.7,2066.7 425,2100C425.3,2133.3 425.1,2130.8 424.8,2160C424.5,2189.2 423.8,2236.7 423.2,2275C422.5,2313.3 421,2364.2 420.6,2390C420.2,2415.8 420,2415.5 420.8,2430C421.6,2444.5 422,2464 425.2,2476.8C428.4,2489.6 436.2,2499.8 440.2,2506.8C444.2,2513.8 447.5,2516.6 449,2518.5"/><polygon class="a" points="445.2,2521.3 456.9,2529.2 452.7,2515.7"/>
<path d="M426.2,1940C426.2,1964.2 426.3,2056.7 426.2,2085C426.1,2113.3 424.9,2102.5 425.6,2110C426.3,2117.5 428.8,2125.8 430.5,2130C432.2,2134.2 434.7,2134.5 435.6,2135.4"/><polygon class="a" points="432.1,2138.6 444.6,2145.2 439,2132.3"/>
<path d="M424.7,1940C424.7,1966.7 424.6,2068.7 424.5,2100C424.4,2131.3 424.2,2116.2 424.2,2127.8C424.2,2139.4 423.6,2157.9 424.6,2169.5C425.6,2181.1 428,2191.3 430,2197.4C432,2203.5 435.5,2204.7 436.6,2206.2"/><polygon class="a" points="432.9,2209 444.6,2216.8 440.3,2203.4"/>
<path d="M422.8,1500C423,1516.7 423.7,1566.7 424.1,1600C424.5,1633.3 424.9,1666.7 425.2,1700C425.5,1733.3 426.2,1780 425.8,1800C425.3,1820 423.9,1812 422.4,1820C420.9,1828 419.1,1838.5 416.8,1847.8C414.5,1857.1 414.1,1867.2 408.5,1875.6C402.9,1883.9 394.5,1891.6 383.4,1897.9C372.3,1904.2 351.6,1910.3 341.7,1913.2C331.8,1916.1 327,1914.7 324,1915"/><polygon class="a" points="323.5,1910.4 310.8,1916.4 324.5,1919.7"/>
<path d="M422.8,1500C423,1516.7 423.9,1566.7 424.4,1600C424.9,1633.3 425.4,1666.7 425.8,1700C426.1,1733.3 427,1780 426.6,1800C426.1,1820 424.6,1812 423.1,1820C421.6,1828 419.9,1838.4 417.5,1847.8C415.1,1857.2 414.2,1867.8 408.5,1876.3C402.8,1884.8 394.5,1892.4 383.4,1898.6C372.3,1904.8 351.6,1910.8 341.7,1913.5C331.8,1916.3 327,1914.9 324,1915.2"/><polygon class="a" points="323.6,1910.5 310.8,1916.4 324.5,1919.8"/>
<path d="M426.2,1990C426.3,1961.7 426.6,1855.8 426.4,1820C426.2,1784.2 425.2,1786.9 425.2,1775C425.2,1763.1 424.7,1761.2 426.6,1748.7C428.5,1736.2 433.6,1718.7 436.6,1700C439.6,1681.3 441.8,1658.6 444.5,1636.4C447.2,1614.2 450.1,1594.7 452.9,1566.9C455.7,1539.1 458.8,1497.3 461.2,1469.5C463.6,1441.7 464.9,1433.1 467,1400C469.1,1366.9 471.8,1308.5 473.7,1271C475.6,1233.5 477.5,1193.1 478.3,1175C479.1,1156.9 478.4,1164.4 478.4,1162.3"/><polygon class="a" points="483.1,1162.4 478.6,1149 473.8,1162.2"/>
</g>
<polygon fill="#000" points="414.6,452 413.9,470 413.9,572 413.7,610 413.7,700 413.8,800 413.9,880 415,1000 416.2,1100 416.7,1180 417.5,1300 416.8,1360 415.6,1400 417.8,1690 418.5,1960 419.4,1985 421.6,2002 424.2,2002 425.9,1985 426.4,1960 426.8,1690 426.2,1400 426,1360 425.4,1300 423.8,1180 423.3,1100 422.6,1000 419.5,880 418.7,800 418.5,700 418.6,610 418.2,572 417.2,470 416.4,452"/>
</svg>
</body></html>
